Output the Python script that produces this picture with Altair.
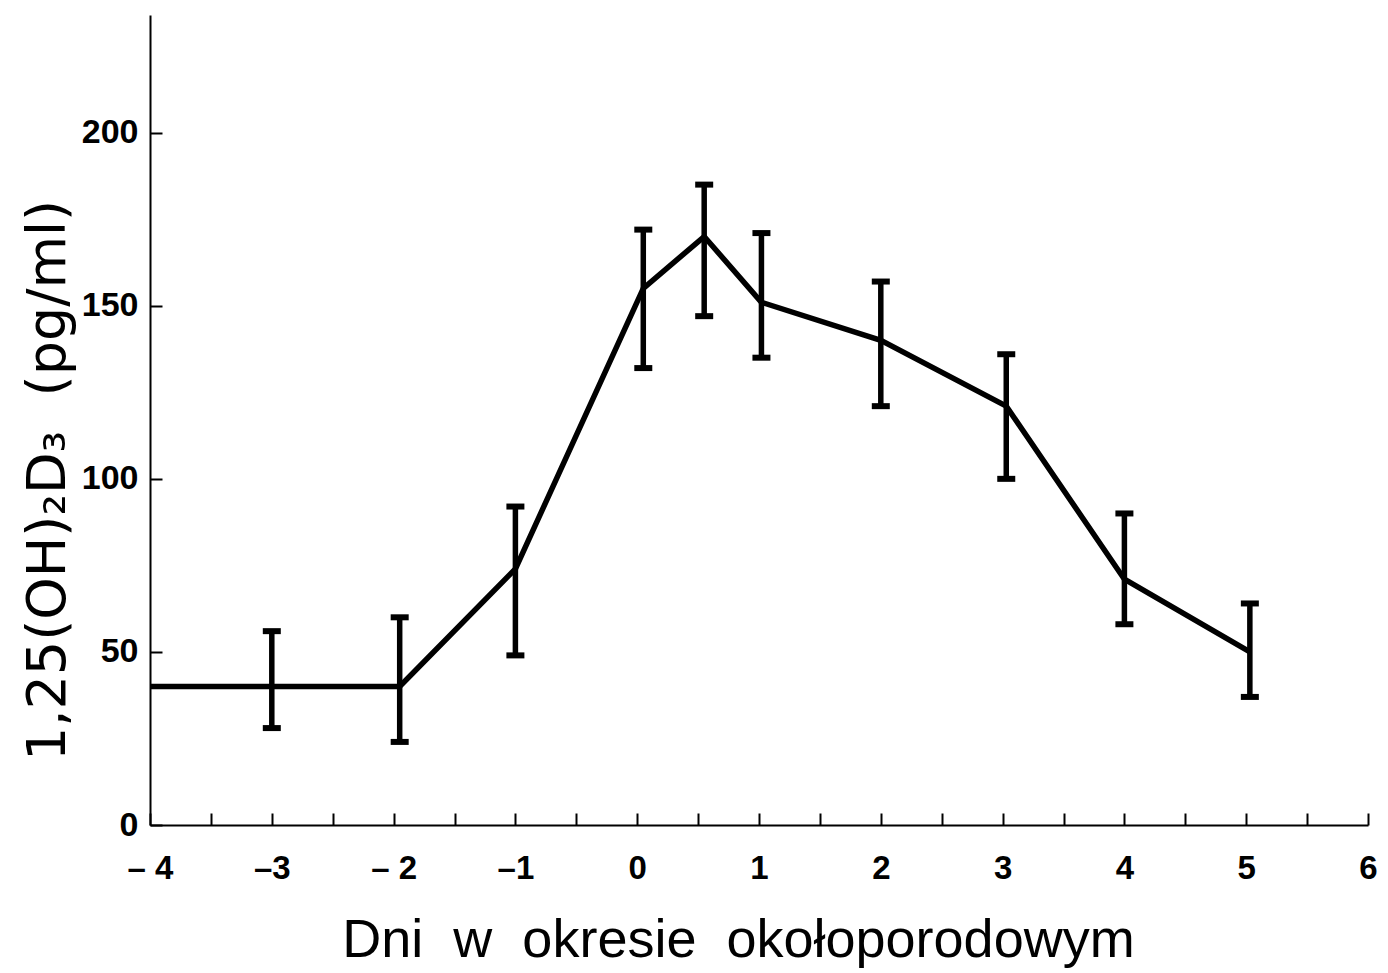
import altair as alt
import pandas as pd

# Line data (days, mean)
days = [-4, -3, -1.95, -1, 0.05, 0.55, 1.02, 2.0, 3.03, 4.0, 5.03]
means = [40, 40, 40, 74, 155, 170, 151, 140, 121, 71, 50]

# Error bars (no bar at -4)
err_days = [-3, -1.95, -1, 0.05, 0.55, 1.02, 2.0, 3.03, 4.0, 5.03]
err_lo = [28, 24, 49, 132, 147, 135, 121, 100, 58, 37]
err_hi = [56, 60, 92, 172, 185, 171, 157, 136, 90, 64]

x_tick_values = [-4, -3, -2, -1, 0, 1, 2, 3, 4, 5, 6]
x_tick_labels = ["\u2013 4", "\u20133", "\u2013 2", "\u20131", "0", "1", "2", "3", "4", "5", "6"]
x_minor_ticks = [-4 + 0.5 * i for i in range(21)]
y_tick_values = [0, 50, 100, 150, 200]

NB = "\u00a0"
x_title = f"Dni{NB}{NB}w{NB}{NB}okresie{NB}{NB}okołoporodowym"
y_title = f"1,25(OH)\u2082D\u2083{NB}{NB}(pg/ml)"

line_df = pd.DataFrame({"day": days, "val": means})
err_df = pd.DataFrame({"day": err_days, "lo": err_lo, "hi": err_hi})

label_expr = "datum.label"
for v, l in zip(x_tick_values, x_tick_labels):
    label_expr = f"datum.value == {v} ? '{l}' : (" + label_expr + ")"

FONT = "Liberation Sans"
xscale = alt.Scale(domain=[-4, 6], nice=False, zero=False)
yscale = alt.Scale(domain=[0, 234], nice=False, zero=False)

W, H = 1218, 810

line = alt.Chart(line_df).mark_line(color="black", strokeWidth=5.5, strokeJoin="miter", strokeCap="butt").encode(
    x=alt.X("day:Q", scale=xscale, axis=alt.Axis(
        orient="bottom", values=x_tick_values, labelExpr=label_expr, ticks=False,
        domain=True, domainColor="black", domainWidth=2,
        labelFont=FONT, labelFontSize=33, labelFontWeight="bold", labelColor="black",
        labelPadding=27, labelFlush=False, labelOverlap=False,
        title=x_title, titleFont=FONT, titleFontSize=54,
        titleFontWeight="normal", titleColor="black", titlePadding=28,
        titleX=588, titleAlign="center")),
    y=alt.Y("val:Q", scale=yscale, axis=alt.Axis(
        orient="left", values=y_tick_values, ticks=False,
        domain=True, domainColor="black", domainWidth=2,
        labelFont=FONT, labelFontSize=34, labelFontWeight="bold", labelColor="black",
        labelPadding=12, labelFlush=False,
        title=y_title, titleFont="DejaVu Sans", titleFontSize=54,
        titleFontWeight="normal", titleColor="black", titlePadding=6,
        titleY=465, titleAlign="center")),
)

tick_axes = alt.Chart(line_df).mark_point(opacity=0).encode(
    x=alt.X("day:Q", scale=xscale, axis=alt.Axis(
        orient="top", offset=-H, values=x_minor_ticks, labels=False, domain=False,
        ticks=True, tickSize=12, tickWidth=2, tickColor="black", title=None)),
    y=alt.Y("val:Q", scale=yscale, axis=alt.Axis(
        orient="right", offset=-W, values=y_tick_values, labels=False, domain=False,
        ticks=True, tickSize=12, tickWidth=2, tickColor="black", title=None)),
)

bars = alt.Chart(err_df).mark_rule(color="black", strokeWidth=5.5).encode(
    x=alt.X("day:Q", scale=xscale, axis=None),
    y=alt.Y("lo:Q", scale=yscale, axis=None),
    y2="hi:Q",
)
cap_lo = alt.Chart(err_df).mark_tick(color="black", size=18, thickness=6, opacity=1, orient="horizontal").encode(
    x=alt.X("day:Q", scale=xscale, axis=None),
    y=alt.Y("lo:Q", scale=yscale, axis=None),
)
cap_hi = alt.Chart(err_df).mark_tick(color="black", size=18, thickness=6, opacity=1, orient="horizontal").encode(
    x=alt.X("day:Q", scale=xscale, axis=None),
    y=alt.Y("hi:Q", scale=yscale, axis=None),
)

chart = alt.layer(line, tick_axes, bars, cap_lo, cap_hi).properties(
    width=W, height=H,
    autosize=alt.AutoSizeParams(type="none"),
    padding={"left": 142, "top": 7, "right": 12, "bottom": 143},
).configure_view(stroke=None).configure_axis(grid=False)

chart.save("out.html", embed_options={"renderer": "svg", "actions": False})
